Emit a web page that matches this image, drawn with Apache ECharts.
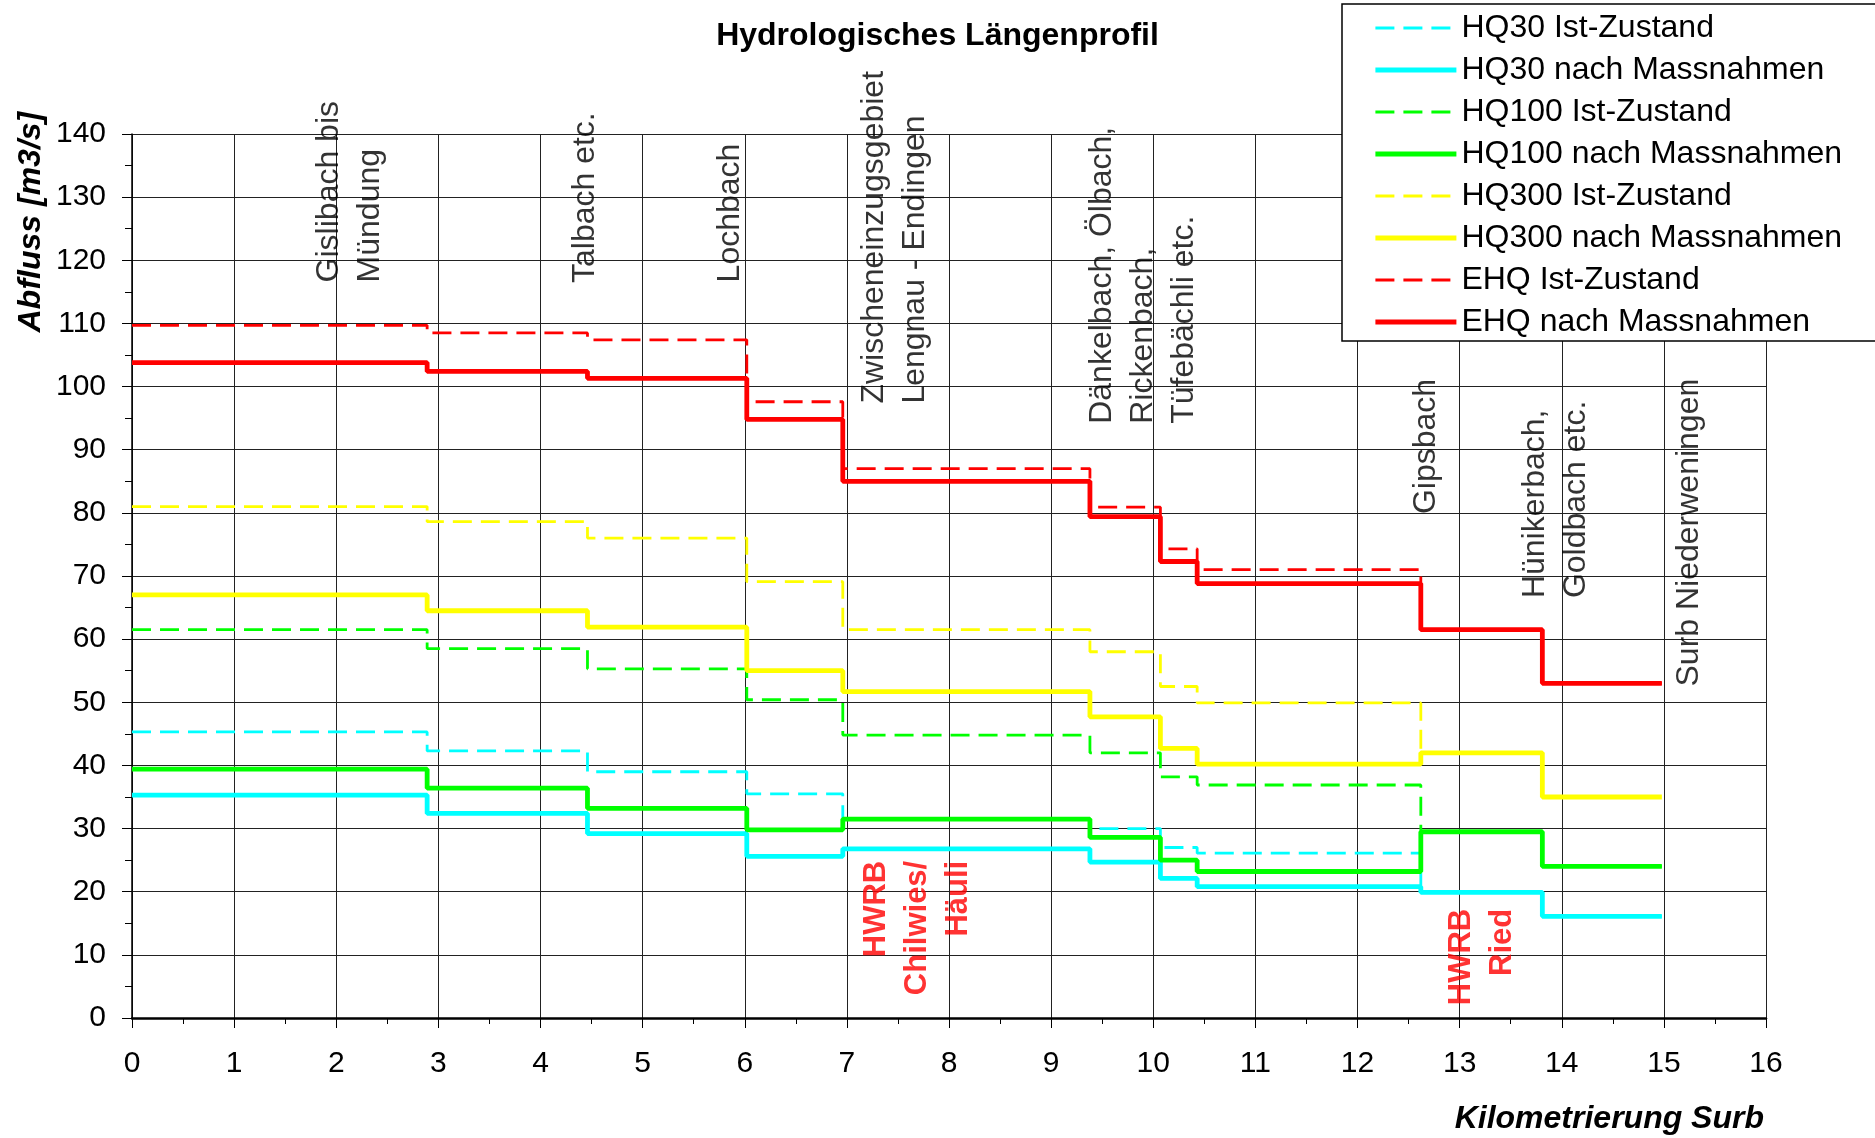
<!DOCTYPE html>
<html>
<head>
<meta charset="utf-8">
<script src="https://cdn.jsdelivr.net/npm/echarts@6/dist/echarts.min.js"></script>
<style>
html, body { margin: 0; padding: 0; background: #fff; }
#chart { width: 1875px; height: 1138px; }
</style>
</head>
<body>
<div id="chart"></div>
<script>
//------------------- Daten --------------
// Kilometer, an denen sich der Abfluss ändert (letzter Wert = Ende)
var kmSteps = [0, 2.89, 4.46, 6.02, 6.96, 9.38, 10.07, 10.43, 12.62, 13.81, 14.98];

var hq30Ist   = [45.3, 42.3, 39.0, 35.5, 31.5, 30.0, 27.0, 26.1, 19.9, 16.1];
var hq30Nach  = [35.3, 32.4, 29.2, 25.6, 26.8, 24.7, 22.1, 20.8, 19.9, 16.1];
var hq100Ist  = [61.5, 58.5, 55.3, 50.4, 44.8, 42.0, 38.2, 36.9, 29.5, 24.0];
var hq100Nach = [39.4, 36.4, 33.2, 29.8, 31.5, 28.6, 25.0, 23.2, 29.5, 24.0];
var hq300Ist  = [81.0, 78.6, 76.0, 69.1, 61.5, 58.0, 52.5, 49.9, 42.0, 35.0];
var hq300Nach = [67.0, 64.5, 61.9, 55.0, 51.7, 47.7, 42.7, 40.2, 42.0, 35.0];
var ehqIst    = [109.7, 108.5, 107.4, 97.6, 87.0, 80.9, 74.3, 71.0, 61.5, 53.0];
var ehqNach   = [103.8, 102.4, 101.3, 94.8, 85.0, 79.4, 72.3, 68.8, 61.5, 53.0];

var seriesNames = ['HQ30 Ist-Zustand', 'HQ30 nach Massnahmen', 'HQ100 Ist-Zustand', 'HQ100 nach Massnahmen',
                   'HQ300 Ist-Zustand', 'HQ300 nach Massnahmen', 'EHQ Ist-Zustand', 'EHQ nach Massnahmen'];
var seriesValues = [hq30Ist, hq30Nach, hq100Ist, hq100Nach, hq300Ist, hq300Nach, ehqIst, ehqNach];

// Beschriftungen der Zuflüsse (km, Abfluss am Textanfang)
var inflowNames = ['Gislibach bis\nMündung', 'Talbach etc.', 'Lochbach', 'Zwischeneinzugsgebiet\nLengnau - Endingen',
                   'Dänkelbach, Ölbach,\nRickenbach,\nTüfebächli etc.', 'Gipsbach', 'Hünikerbach,\nGoldbach etc.', 'Surb Niederweningen'];
var inflowKm = [2.13, 4.44, 5.86, 7.47, 9.90, 12.67, 13.94, 15.25];
var inflowQ  = [116.5, 116.4, 116.5, 97.3, 94.1, 79.8, 66.5, 52.5];

// Rückhaltebecken (km, Abfluss am Textende)
var basinNames = ['HWRB\nChilwies/\nHäuli', 'HWRB\nRied'];
var basinKm = [7.69, 13.22];
var basinQ  = [24.9, 17.3];

//------------------- Logik --------------
var colors = ['#00FFFF', '#00FFFF', '#00FF00', '#00FF00', '#FFFF00', '#FFFF00', '#FF0000', '#FF0000'];
var font = '"Liberation Sans", Arial, sans-serif';

function stepData(values) {
    var out = [];
    for (var i = 0; i < values.length; i++) {
        out.push([kmSteps[i], values[i]]);
    }
    out.push([kmSteps[kmSteps.length - 1], values[values.length - 1]]);
    return out;
}

function lineStyleFor(s) {
    var dashed = s % 2 === 0;
    return {
        color: colors[s],
        width: dashed ? 2.8 : 4.8,
        type: dashed ? [19, 9] : 'solid'
    };
}

var series = [];
var legendData = [];
for (var s = 0; s < seriesNames.length; s++) {
    series.push({
        name: seriesNames[s],
        type: 'line',
        step: 'end',
        symbol: 'none',
        data: stepData(seriesValues[s]),
        lineStyle: lineStyleFor(s),
        itemStyle: { color: colors[s] },
        z: 2
    });
    legendData.push({ name: seriesNames[s], lineStyle: lineStyleFor(s), itemStyle: { opacity: 0 } });
}

function labelData(names, km, q) {
    var out = [];
    for (var i = 0; i < names.length; i++) {
        out.push({ name: names[i], value: [km[i], q[i]] });
    }
    return out;
}

series.push({
    type: 'scatter',
    symbolSize: 0,
    silent: true,
    data: labelData(inflowNames, inflowKm, inflowQ),
    label: {
        show: true, position: 'inside', rotate: 90,
        align: 'left', verticalAlign: 'middle',
        formatter: '{b}', color: '#000',
        fontFamily: font, fontSize: 32, lineHeight: 41
    },
    z: 5
});
series.push({
    type: 'scatter',
    symbolSize: 0,
    silent: true,
    data: labelData(basinNames, basinKm, basinQ),
    label: {
        show: true, position: 'inside', rotate: 90,
        align: 'right', verticalAlign: 'middle',
        formatter: '{b}', color: '#FF0000', fontWeight: 'bold',
        fontFamily: font, fontSize: 31, lineHeight: 41
    },
    z: 5
});

//------------------- Konfiguration --------------
var option = {
    animation: false,
    backgroundColor: '#fff',
    title: {
        text: 'Hydrologisches Längenprofil',
        left: 'center',
        top: 15,
        textStyle: { fontFamily: font, fontSize: 32, fontWeight: 'bold', color: '#000' }
    },
    grid: { left: 132, right: 109, top: 134, bottom: 120 },
    legend: {
        orient: 'vertical',
        left: 1373,
        top: 11,
        padding: 0,
        itemWidth: 81,
        itemHeight: 10,
        itemGap: 8,
        data: legendData,
        itemStyle: { opacity: 0 },
        textStyle: { fontFamily: font, fontSize: 32, lineHeight: 34, color: '#000' },
        z: 20
    },
    graphic: [
        {
            type: 'rect', z: 15,
            shape: { x: 1342, y: 4, width: 560, height: 337 },
            style: { fill: '#fff', stroke: '#000', lineWidth: 1.5 }
        },
        {
            type: 'text', z: 15, x: 31, y: 222, rotation: Math.PI / 2,
            style: {
                text: 'Abfluss [m3/s]', fill: '#000',
                font: 'italic bold 32px "Liberation Sans", Arial, sans-serif',
                align: 'center', verticalAlign: 'middle',
                textAlign: 'center', textVerticalAlign: 'middle'
            }
        },
        {
            type: 'text', z: 15, x: 1764, y: 1119,
            style: {
                text: 'Kilometrierung Surb', fill: '#000',
                font: 'italic bold 32px "Liberation Sans", Arial, sans-serif',
                align: 'right', verticalAlign: 'middle',
                textAlign: 'right', textVerticalAlign: 'middle'
            }
        }
    ],
    xAxis: {
        type: 'value',
        min: 0, max: 16, interval: 1,
        axisLine: { onZero: false, lineStyle: { color: '#000', width: 2.5 } },
        axisTick: { show: true, inside: false, length: 10, lineStyle: { color: '#000', width: 1 } },
        minorTick: { show: true, splitNumber: 2, length: 6, lineStyle: { color: '#000', width: 1 } },
        axisLabel: { margin: 31, fontFamily: font, fontSize: 30, color: '#000' },
        splitLine: { show: true, lineStyle: { color: '#222', width: 1 } }
    },
    yAxis: {
        type: 'value',
        min: 0, max: 140, interval: 10,
        axisLine: { show: true, lineStyle: { color: '#000', width: 1.5 } },
        axisTick: { show: true, inside: false, length: 10, lineStyle: { color: '#000', width: 1 } },
        minorTick: { show: true, splitNumber: 2, length: 7, lineStyle: { color: '#000', width: 1 } },
        axisLabel: { margin: 26, fontFamily: font, fontSize: 30, color: '#000' },
        splitLine: { show: true, lineStyle: { color: '#222', width: 1 } }
    },
    series: series
};

echarts.init(document.getElementById('chart')).setOption(option);
</script>
</body>
</html>
